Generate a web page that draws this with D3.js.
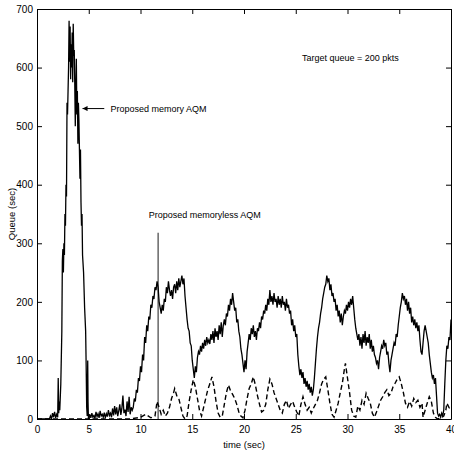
<!DOCTYPE html>
<html>
<head>
<meta charset="utf-8">
<script src="https://cdn.jsdelivr.net/npm/d3@7"></script>
<style>
  body { margin: 0; background: #fff; }
  text { font-family: "Liberation Sans", Arial, sans-serif; fill: #000; }
</style>
</head>
<body>
<div id="chart"></div>
<script>
// tick labels
const xTicks = [0, 5, 10, 15, 20, 25, 30, 35, 40];
const yTicks = [0, 100, 200, 300, 400, 500, 600, 700];

// [time (sec), queue]
const memoryQueue = [
  [0,0],[1.2,0],[1.3,5],[1.4,0],[1.5,10],[1.6,3],[1.7,12],[1.8,2],[1.9,8],[2.0,3],[2.05,70],[2.1,10],[2.15,30],[2.2,15],
  [2.3,60],[2.4,150],[2.45,270],[2.5,290],[2.55,250],[2.6,300],[2.65,280],[2.7,350],[2.75,330],[2.8,400],[2.85,380],
  [2.9,540],[2.95,520],[3.0,560],[3.05,600],[3.1,680],[3.15,610],[3.2,670],[3.25,580],[3.3,640],[3.35,600],[3.4,660],
  [3.45,575],[3.5,675],[3.55,620],[3.6,630],[3.65,570],[3.7,500],[3.75,560],[3.8,615],[3.85,520],[3.9,560],[3.95,470],
  [4.0,540],[4.05,510],[4.1,460],[4.15,410],[4.2,460],[4.25,370],[4.3,330],[4.35,350],[4.4,280],[4.5,250],[4.6,190],
  [4.7,150],[4.75,90],[4.8,20],[4.85,5],[4.9,100],[4.93,30],[4.97,0],
  [5.0,0],[5.1,8],[5.2,2],[5.3,10],[5.4,3],[5.5,6],[5.6,1],[5.7,12],[5.8,4],[5.9,9],[6.0,2],[6.1,14],[6.2,5],[6.3,8],
  [6.4,3],[6.5,11],[6.6,2],[6.7,9],[6.8,4],[6.9,15],[7.0,6],[7.1,10],[7.2,3],[7.3,18],[7.4,6],[7.5,22],[7.6,8],[7.7,20],
  [7.8,5],[7.9,14],[8.0,25],[8.1,7],[8.2,18],[8.3,40],[8.4,10],[8.5,16],[8.6,5],[8.7,30],[8.8,12],[8.9,38],[9.0,8],
  [9.1,20],[9.2,15],[9.3,20],[9.4,35],[9.5,30],[9.6,50],[9.7,45],[9.8,70],[9.9,65],[10.0,90],[10.1,80],[10.2,110],
  [10.3,100],[10.4,140],[10.5,130],[10.6,160],[10.7,150],[10.8,175],[10.9,170],[11.0,195],[11.1,190],[11.2,210],
  [11.3,205],[11.4,225],[11.5,220],[11.6,235],[11.7,225],[11.8,200],[11.9,190],[12.0,180],[12.1,195],[12.2,185],
  [12.3,205],[12.4,200],[12.5,225],[12.6,215],[12.7,235],[12.8,220],[12.9,210],[13.0,220],[13.1,205],[13.2,225],
  [13.3,230],[13.4,215],[13.5,235],[13.6,220],[13.7,240],[13.8,225],[13.9,235],[14.0,245],[14.1,230],[14.2,240],
  [14.3,210],[14.4,190],[14.5,170],[14.6,155],[14.7,150],[14.8,130],[14.9,125],[15.0,100],[15.1,85],[15.2,70],
  [15.3,90],[15.4,80],[15.5,105],[15.6,115],[15.7,110],[15.8,125],[15.9,115],[16.0,130],[16.1,120],[16.2,135],
  [16.3,125],[16.4,140],[16.5,130],[16.6,135],[16.7,128],[16.8,145],[16.9,135],[17.0,150],[17.1,130],[17.2,155],
  [17.3,140],[17.4,150],[17.5,135],[17.6,160],[17.7,145],[17.8,165],[17.9,140],[18.0,160],[18.1,170],[18.2,160],
  [18.3,180],[18.4,175],[18.5,195],[18.6,185],[18.7,205],[18.8,195],[18.9,215],[19.0,200],[19.1,185],[19.2,190],
  [19.3,165],[19.4,170],[19.5,150],[19.6,140],[19.7,120],[19.8,110],[19.9,95],[20.0,80],[20.1,100],[20.2,85],
  [20.3,115],[20.4,130],[20.5,145],[20.6,135],[20.7,155],[20.8,145],[20.9,160],[21.0,140],[21.1,150],[21.2,135],
  [21.3,155],[21.4,150],[21.5,165],[21.6,155],[21.7,175],[21.8,170],[21.9,185],[22.0,180],[22.1,195],[22.2,185],
  [22.3,205],[22.4,195],[22.5,220],[22.6,200],[22.7,210],[22.8,195],[22.9,215],[23.0,200],[23.1,205],[23.2,190],
  [23.3,210],[23.4,195],[23.5,205],[23.6,190],[23.7,210],[23.8,195],[23.9,200],[24.0,185],[24.1,205],[24.2,190],
  [24.3,195],[24.4,180],[24.5,185],[24.6,160],[24.7,170],[24.8,150],[24.9,160],[25.0,140],[25.1,145],[25.2,110],
  [25.3,90],[25.4,75],[25.5,85],[25.6,70],[25.7,80],[25.8,60],[25.9,70],[26.0,55],[26.1,65],[26.2,50],[26.3,60],
  [26.4,45],[26.5,55],[26.6,40],[26.7,50],[26.8,70],[26.9,95],[27.0,120],[27.1,140],[27.2,155],[27.3,165],[27.4,180],
  [27.5,190],[27.6,205],[27.7,215],[27.8,225],[27.9,230],[28.0,245],[28.1,235],[28.2,240],[28.3,220],[28.4,230],
  [28.5,210],[28.6,215],[28.7,200],[28.8,205],[28.9,185],[29.0,195],[29.1,175],[29.2,185],[29.3,165],[29.4,180],
  [29.5,160],[29.6,175],[29.7,185],[29.8,180],[29.9,195],[30.0,185],[30.1,200],[30.2,190],[30.3,205],[30.4,195],
  [30.5,210],[30.6,190],[30.7,170],[30.8,155],[30.9,145],[31.0,135],[31.1,145],[31.2,125],[31.3,140],[31.4,120],
  [31.5,145],[31.6,130],[31.7,150],[31.8,125],[31.9,140],[32.0,130],[32.1,145],[32.2,120],[32.3,135],[32.4,115],
  [32.5,125],[32.6,110],[32.7,105],[32.8,95],[32.9,100],[33.0,85],[33.1,105],[33.2,115],[33.3,125],[33.4,120],
  [33.5,135],[33.6,125],[33.7,130],[33.8,110],[33.9,115],[34.0,95],[34.1,80],[34.2,100],[34.3,110],[34.4,120],
  [34.5,130],[34.6,125],[34.7,145],[34.8,140],[34.9,160],[35.0,175],[35.1,190],[35.2,200],[35.3,215],[35.4,205],
  [35.5,210],[35.6,195],[35.7,205],[35.8,185],[35.9,200],[36.0,180],[36.1,190],[36.2,165],[36.3,175],[36.4,160],
  [36.5,170],[36.6,155],[36.7,165],[36.8,150],[36.9,160],[37.0,135],[37.1,115],[37.2,110],[37.3,130],[37.4,150],
  [37.5,160],[37.6,150],[37.7,140],[37.8,130],[37.9,110],[38.0,95],[38.1,80],[38.2,70],[38.3,75],[38.4,60],
  [38.5,70],[38.6,40],[38.7,10],[38.8,5],[38.9,8],[39.0,3],[39.1,10],[39.2,5],[39.3,15],[39.4,60],[39.5,100],
  [39.6,125],[39.7,120],[39.8,140],[39.9,135],[40.0,170]
];

const memorylessQueue = [
  [0,0],[9,0],[10,3],[10.5,8],[11,2],[11.4,5],[11.6,30],[11.8,20],[12.0,8],[12.2,15],[12.4,5],[12.6,10],[12.8,20],
  [13.0,35],[13.2,45],[13.3,52],[13.5,40],[13.7,35],[13.9,20],[14.1,5],[14.3,0],[14.5,5],[14.7,30],[14.9,50],
  [15.1,67],[15.3,55],[15.5,35],[15.7,15],[15.9,5],[16.1,20],[16.3,35],[16.5,50],[16.7,60],[16.9,72],[17.1,55],
  [17.3,30],[17.5,10],[17.7,3],[17.9,5],[18.1,25],[18.3,45],[18.5,58],[18.7,48],[18.9,42],[19.1,35],[19.3,25],
  [19.5,12],[19.7,5],[19.9,2],[20.1,15],[20.3,35],[20.5,52],[20.7,60],[20.9,72],[21.1,58],[21.3,40],[21.5,25],
  [21.7,12],[21.9,15],[22.1,25],[22.3,50],[22.5,68],[22.7,60],[22.9,45],[23.1,35],[23.3,25],[23.5,15],[23.7,10],
  [23.9,25],[24.1,32],[24.3,18],[24.5,25],[24.7,30],[24.9,20],[25.1,12],[25.3,5],[25.5,25],[25.7,38],[25.9,25],
  [26.1,15],[26.3,20],[26.5,10],[26.7,18],[26.9,25],[27.1,32],[27.3,45],[27.5,60],[27.7,68],[27.9,72],[28.1,50],
  [28.3,27],[28.5,8],[28.7,3],[28.9,15],[29.1,27],[29.3,45],[29.5,61],[29.7,85],[29.8,95],[30.0,70],[30.2,45],
  [30.4,15],[30.6,5],[30.8,3],[31.0,22],[31.2,15],[31.4,32],[31.6,25],[31.8,44],[32.0,35],[32.2,27],[32.4,10],
  [32.6,3],[32.8,12],[33.0,22],[33.2,32],[33.4,38],[33.6,45],[33.8,50],[34.0,40],[34.2,44],[34.4,55],[34.6,61],
  [34.8,68],[35.0,72],[35.2,60],[35.4,45],[35.6,27],[35.8,20],[36.0,30],[36.2,22],[36.4,35],[36.6,28],[36.8,32],
  [37.0,20],[37.2,27],[37.3,3],[37.5,15],[37.7,27],[37.9,38],[38.1,30],[38.3,10],[38.5,3],[38.7,0],[39.0,2],
  [39.3,5],[39.5,15],[39.6,27],[39.8,20],[40,15]
];

// annotations: [time, queue] anchor points
const memoryLabel = "Proposed memory AQM";
const memoryArrow = [[4.4, 530], [6.5, 530]];
const memorylessLabel = "Proposed memoryless AQM";
const memorylessPointer = [[11.7, 0], [11.7, 318]];
const targetLabel = "Target queue = 200 pkts";

const width = 454, height = 457;
const margin = {top: 9, right: 3, bottom: 38, left: 37};

const x = d3.scaleLinear().domain([0, 40]).range([margin.left, width - margin.right]);
const y = d3.scaleLinear().domain([0, 700]).range([height - margin.bottom, margin.top]);

const svg = d3.select("#chart").append("svg")
    .attr("width", width)
    .attr("height", height);

svg.append("defs").append("clipPath").attr("id", "clip")
  .append("rect")
    .attr("x", x(0)).attr("y", y(700))
    .attr("width", x(40) - x(0)).attr("height", y(0) - y(700));

const line = d3.line().x(d => x(d[0])).y(d => y(d[1]));

const plot = svg.append("g").attr("clip-path", "url(#clip)");

plot.append("path")
    .datum(memorylessQueue)
    .attr("fill", "none")
    .attr("stroke", "#000")
    .attr("stroke-width", 1.4)
    .attr("stroke-dasharray", "5,3")
    .attr("d", line);

plot.append("path")
    .datum(memoryQueue)
    .attr("fill", "none")
    .attr("stroke", "#000")
    .attr("stroke-width", 1.3)
    .attr("d", line);

// axes, ticks pointing inwards
svg.append("g")
    .attr("transform", `translate(0,${y(0)})`)
    .call(d3.axisBottom(x).tickValues(xTicks).tickSizeInner(-5).tickSizeOuter(0).tickPadding(7));
svg.append("g")
    .attr("transform", `translate(${x(0)},0)`)
    .call(d3.axisLeft(y).tickValues(yTicks).tickSizeInner(-5).tickSizeOuter(0).tickPadding(4));
svg.append("g")
    .attr("transform", `translate(0,${y(700)})`)
    .call(d3.axisTop(x).tickValues(xTicks).tickSizeInner(-5).tickSizeOuter(0).tickFormat(""));
svg.append("g")
    .attr("transform", `translate(${x(40)},0)`)
    .call(d3.axisRight(y).tickValues(yTicks).tickSizeInner(-5).tickSizeOuter(0).tickFormat(""));

svg.selectAll(".tick text").style("font-size", "10px").style("font-family", "'Liberation Sans', Arial, sans-serif");
svg.selectAll(".domain, .tick line").attr("stroke", "#000");

svg.append("text")
    .attr("x", (x(0) + x(40)) / 2)
    .attr("y", height - 9)
    .attr("text-anchor", "middle")
    .style("font-size", "9.5px")
    .text("time (sec)");

svg.append("text")
    .attr("transform", `translate(15,${(y(0) + y(700)) / 2}) rotate(-90)`)
    .attr("text-anchor", "middle")
    .style("font-size", "9.5px")
    .text("Queue (sec)");

// annotations
svg.append("defs").append("marker")
    .attr("id", "head")
    .attr("viewBox", "0 0 10 10")
    .attr("refX", 10).attr("refY", 5)
    .attr("markerWidth", 7).attr("markerHeight", 5)
    .attr("orient", "auto-start-reverse")
  .append("path")
    .attr("d", "M0,0L10,5L0,10z")
    .attr("fill", "#000");

svg.append("line")
    .attr("x1", x(memoryArrow[1][0])).attr("y1", y(memoryArrow[1][1]))
    .attr("x2", x(memoryArrow[0][0])).attr("y2", y(memoryArrow[0][1]))
    .attr("stroke", "#000")
    .attr("marker-end", "url(#head)");

svg.append("text")
    .attr("x", x(7.1)).attr("y", y(530))
    .attr("dy", "0.35em")
    .style("font-size", "9px")
    .text(memoryLabel);

svg.append("line")
    .attr("x1", x(memorylessPointer[0][0])).attr("y1", y(memorylessPointer[0][1]))
    .attr("x2", x(memorylessPointer[1][0])).attr("y2", y(memorylessPointer[1][1]))
    .attr("stroke", "#000")
    .attr("stroke-width", 0.9);

svg.append("text")
    .attr("x", x(10.8)).attr("y", y(348))
    .attr("dy", "0.35em")
    .style("font-size", "9px")
    .text(memorylessLabel);

svg.append("text")
    .attr("x", x(25.6)).attr("y", y(616))
    .attr("dy", "0.35em")
    .style("font-size", "9px")
    .text(targetLabel);
</script>
</body>
</html>
